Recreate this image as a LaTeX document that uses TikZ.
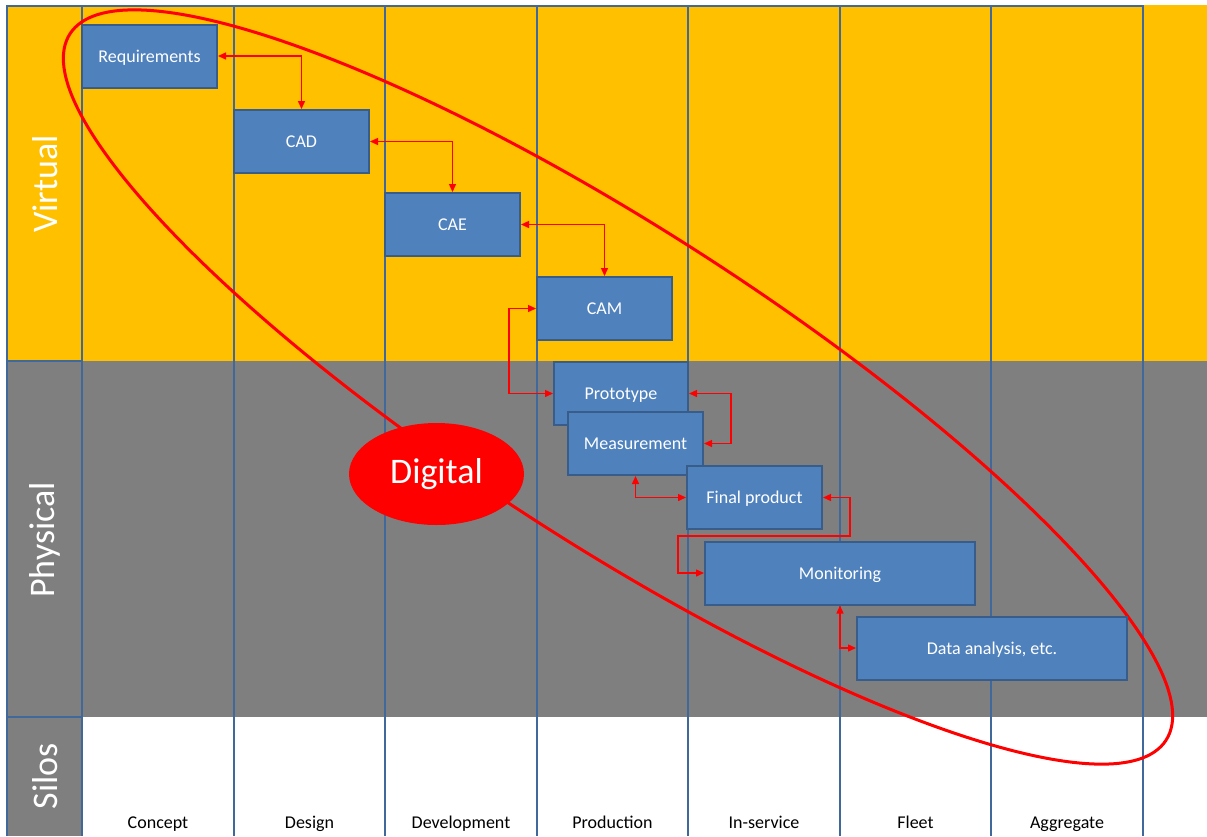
\documentclass[tikz,border=0pt]{standalone}
\usepackage{fontspec}
\setmainfont{Carlito}
\usepackage{tikz}
\usetikzlibrary{arrows.meta,shapes.geometric}
\definecolor{gold}{HTML}{FFC000}
\definecolor{slate}{HTML}{7F7F7F}
\definecolor{grid}{HTML}{41689A}
\definecolor{boxfill}{HTML}{4F81BD}
\definecolor{boxline}{HTML}{385D8A}

\begin{document}
\begin{tikzpicture}[x=1pt, y=-1pt,
  box/.style = {draw=boxline, fill=boxfill, line width=2pt, text=white, minimum width=135pt, minimum height=63pt, inner sep=0pt, text height=12.5pt, text depth=0pt, font=\fontsize{18}{20}\selectfont},
  wide/.style = {box, minimum width=270pt},
  link/.style = {red, line width=1.4pt, {Triangle[length=8pt,width=7pt]}-{Triangle[length=8pt,width=7pt]}},
  side/.style = {text=white, rotate=90, font=\fontsize{36}{40}\selectfont},
  phase/.style = {anchor=base, font=\fontsize{18}{20}\selectfont},
  rule/.style = {draw=grid, line width=2.8pt}]
\useasboundingbox (0,0) rectangle (1207,836);
\fill[white] (0,0) rectangle (1207,836);
\fill[gold] (7,5) rectangle (1207,361);
\fill[slate] (7,361) rectangle (1207,717);
\fill[slate] (7,717) rectangle (82,836);
\foreach \x in {7,82,234,385,537,688,840,991,1143}
  \draw[rule] (\x,5) -- (\x,836);
\draw[rule] (7,6) -- (1143,6);
\draw[rule] (7,361) -- (82,361) (7,717) -- (82,717);

\node[side] (v) at (45,184) {Virtual};
\node[side] (ph) at (45,540) {Physical};
\node[side] (s) at (45,776) {Silos};
\foreach \x/\t [count=\i] in {158/Concept, 309.5/Design, 461/Development, 612.5/Production, 764/In-service, 915.5/Fleet, 1067/Aggregate}
  \node[phase] (p\i) at (\x,828) {\t};

\draw[red, line width=3pt, rotate around={-32.8:(618,387)}] (618,387) ellipse [x radius=652pt, y radius=157pt];

\node[box] (1) at (149.5,56) {Requirements};
\node[box] (2) at (301.5,141.5) {CAD};
\node[box] (3) at (452.5,224.5) {CAE};
\node[box] (4) at (604.5,308.5) {CAM};
\node[box, minimum width=134pt] (5) at (621,393.5) {Prototype};
\node[box] (6) at (635.5,443.5) {Measurement};
\node[box] (7) at (754.5,497.5) {Final product};
\node[wide] (8) at (840,573) {Monitoring};
\node[wide] (9) at (992,648) {Data analysis, etc.};
\node[ellipse, fill=red, text=white, minimum width=175pt, minimum height=102pt, font=\fontsize{36}{40}\selectfont] (10) at (436.5,474) {Digital};

\coordinate (bend) at (678,536);
\draw[link] (1.east) -| (2.north);
\draw[link] (2.east) -| (3.north);
\draw[link] (3.east) -| (4.north);
\draw[link] (4.west) -- ++(-27,0) |- (5.west);
\draw[link] (5.east) -- ++(42,0) |- (6.east);
\draw[link] (6.south) |- (7.west);
\draw[link] (7.east) -- ++(27,0) |- (bend) |- (8.west);
\draw[link] (8.south) |- (9.west);
\end{tikzpicture}
\end{document}
